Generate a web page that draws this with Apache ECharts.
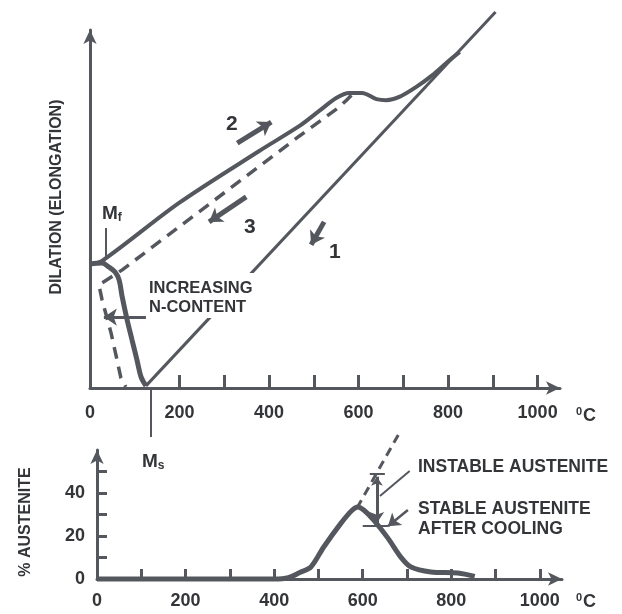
<!DOCTYPE html>
<html>
<head>
<meta charset="utf-8">
<script src="https://cdn.jsdelivr.net/npm/echarts@6/dist/echarts.min.js"></script>
<style>
html,body{margin:0;padding:0;background:#fff;}
#c{width:622px;height:614px;}
</style>
</head>
<body>
<div id="c"></div>
<script>
// ---------- data (temperature in °C, dilation in relative units, austenite in %) ----------
const tempLabels = [0, 200, 400, 600, 800, 1000];
const tempTicksUpper = [200, 300, 400, 500, 600, 700, 800, 900, 1000];
const tempTicksLower = [100, 200, 300, 400, 500, 600, 700, 800, 900, 1000];
const austLabels = [0, 20, 40];
const austTicks = [10, 20, 30, 40, 50];

// upper diagram: dilation curves
const coolingLine1 = [[906, 105], [125, 0.6]];
const martensiteCurve = [[125, 0.6], [114, 3.1], [105, 7.8], [94, 13.4], [83, 19], [72, 25.4], [65, 30.2], [56, 32.4], [42, 33.8], [27, 34.9], [0, 34.6]];
const heatingLine2 = [[0, 34.6], [27, 35.5], [199, 51.7], [378, 66.2], [468, 73.2], [512, 77.4], [550, 81], [579, 82.4], [608, 82.4], [640, 80.7], [662, 80.4], [691, 81.3], [729, 84.1], [765, 87.4], [796, 90.8], [826, 93.9]];
const coolingLine3 = [[584, 81.8], [573, 80.4], [557, 78.5], [468, 70.4], [199, 45], [72, 33], [20, 28.8], [27, 24.6], [47, 15.4], [58, 9.2], [69, 2.8], [80, 0.3]];
const arrow1 = [[523, 46.4], [494, 40]];
const arrow2 = [[329, 68.4], [405, 74.3]];
const arrow3 = [[349, 53.4], [266, 46.4]];
const arrowN = [[125, 19.8], [31, 19.8]];
const mfPointer = [[36, 44.7], [36, 36.6]];
const msPointer = [[136, 0], [136, -13.7]];

// lower diagram: austenite content
const austTemp = [0, 200, 400, 432, 458, 483, 512, 551, 576, 589, 603, 625, 657, 686, 709, 754, 815, 853];
const austStable = [0, 0, 0, 0.6, 3, 5.6, 14.9, 26, 32, 33.5, 32, 27.4, 19, 10.2, 5.6, 3.3, 2.8, 1.2];
const austInstable = [[587, 33], [684, 68.4]];
const instableSpan = [[632, 47.6], [632, 26]];
const spanTopBar = [[616, 48.8], [650, 48.8]];
const spanBottomBar = [[600, 25], [657, 25]];
const instableLeader = [[706, 50.2], [639, 38.6]];
const stableLeader = [[702, 32.1], [657, 24.5]];

// ---------- style ----------
const LC = '#54585e';
const TC = '#333538';
const FONT = '"Liberation Sans", Arial, sans-serif';

const chart = echarts.init(document.getElementById('c'), null, {renderer: 'canvas'});

function axisX(gi, margin, ticks) {
  return {
    type: 'value', gridIndex: gi, min: 0, max: 1050,
    splitLine: {show: false},
    axisLine: {show: true, onZero: false, symbol: ['none', 'arrow'], symbolSize: [10, 14], lineStyle: {color: LC, width: 3}},
    axisTick: {show: true, inside: true, length: gi === 0 ? 13 : 10, customValues: ticks, lineStyle: {color: LC, width: 3}},
    axisLabel: {show: true, customValues: tempLabels, formatter: v => String(v), margin: margin, color: TC, fontSize: 18, fontWeight: 'bold', fontFamily: FONT,
      padding: [0, 0, 0, 0]}
  };
}

const lineS = (name, data, w, extra) => Object.assign({
  name, type: 'line', data, showSymbol: false, symbol: 'none', clip: false,
  lineStyle: {color: LC, width: w}, silent: true, animation: false
}, extra || {});

const linesS = (data, w, sym, gi, extra) => Object.assign({
  type: 'lines', coordinateSystem: 'cartesian2d', xAxisIndex: gi, yAxisIndex: gi,
  data: data.map(c => ({coords: c})), clip: false,
  symbol: sym, symbolSize: [13, 13],
  lineStyle: {color: LC, width: w, opacity: 1, curveness: 0}, silent: true, animation: false
}, extra || {});

function txt(text, x, y, size, align, rotation) {
  return {
    type: 'text', x: x, y: y, z: 110, rotation: rotation || 0,
    style: {text: text, fill: TC, font: 'bold ' + size + 'px ' + FONT, align: align || 'left', verticalAlign: 'middle'}
  };
}
function subTxt(main, sub, x, y) {
  return {type: 'text', x: x, y: y, z: 110, style: {text: '{b|' + main + '}{s|' + sub + '}', verticalAlign: 'middle',
    rich: {b: {fill: TC, font: 'bold 19px ' + FONT}, s: {fill: TC, font: 'bold 12px ' + FONT, padding: [8, 0, 0, 0]}}}};
}
function degTxt(x, y) {
  return {type: 'text', x: x, y: y, z: 110, style: {text: '{s|0}{b|C}', verticalAlign: 'middle',
    rich: {b: {fill: TC, font: 'bold 18px ' + FONT}, s: {fill: TC, font: 'bold 11px ' + FONT, padding: [0, 1, 9, 0]}}}};
}

const option = {
  backgroundColor: '#fff',
  animation: false,
  grid: [
    {left: 90, top: 30, width: 470, height: 358},
    {left: 97, top: 450, width: 465, height: 129}
  ],
  xAxis: [axisX(0, 16, tempTicksUpper), axisX(1, 13, tempTicksLower)],
  yAxis: [
    {type: 'value', gridIndex: 0, min: 0, max: 100, splitLine: {show: false},
     axisLine: {show: true, onZero: false, symbol: ['none', 'arrow'], symbolSize: [10, 14], lineStyle: {color: LC, width: 3}},
     axisTick: {show: false}, axisLabel: {show: false}},
    {type: 'value', gridIndex: 1, min: 0, max: 60, splitLine: {show: false},
     axisLine: {show: true, onZero: false, symbol: ['none', 'arrow'], symbolSize: [10, 14], lineStyle: {color: LC, width: 3}},
     axisTick: {show: true, inside: true, length: 10, customValues: austTicks, lineStyle: {color: LC, width: 3}},
     axisLabel: {show: true, customValues: austLabels, formatter: v => String(v), margin: 12, color: TC, fontSize: 18, fontWeight: 'bold', fontFamily: FONT}}
  ],
  series: [
    lineS('1', coolingLine1, 3),
    lineS('martensite', martensiteCurve, 5, {smooth: 0.35}),
    lineS('2', heatingLine2, 4, {smooth: 0.3}),
    lineS('3', coolingLine3, 3.5, {lineStyle: {color: LC, width: 3.5, type: [12, 8]}}),
    linesS([arrow1, arrow2, arrow3], 5, ['none', 'arrow'], 0),
    linesS([arrowN], 3, ['none', 'arrow'], 0),
    linesS([mfPointer, msPointer], 2, ['none', 'none'], 0),
    lineS('stable austenite', austTemp.map((t, i) => [t, austStable[i]]), 5, {xAxisIndex: 1, yAxisIndex: 1, smooth: 0.3}),
    lineS('instable austenite', austInstable, 3, {xAxisIndex: 1, yAxisIndex: 1, lineStyle: {color: LC, width: 3, type: [9, 6]}}),
    linesS([instableSpan], 3, ['arrow', 'arrow'], 1, {symbolSize: [9, 11]}),
    linesS([spanTopBar, spanBottomBar, instableLeader], 2, ['none', 'none'], 1),
    linesS([stableLeader], 2.5, ['none', 'arrow'], 1, {symbolSize: [10, 12]})
  ],
  graphic: [
    {type: 'rect', z: 100, shape: {x: 146, y: 273, width: 116, height: 45}, style: {fill: '#fff'}},
    txt('INCREASING', 149, 288, 16.5),
    txt('N-CONTENT', 149, 307, 16.5),
    txt('DILATION (ELONGATION)', 57, 197, 16, 'center', Math.PI / 2),
    txt('% AUSTENITE', 26, 522, 16, 'center', Math.PI / 2),
    subTxt('M', 'f', 102, 214),
    subTxt('M', 's', 142, 462),
    txt('2', 226, 124, 21),
    txt('3', 244, 227, 21),
    txt('1', 329, 252, 21),
    degTxt(576, 416),
    degTxt(576, 602),
    txt('INSTABLE AUSTENITE', 418, 467, 17.5),
    txt('STABLE AUSTENITE', 418, 509, 17.5),
    txt('AFTER COOLING', 418, 529, 17.5)
  ]
};
chart.setOption(option);
</script>
</body>
</html>
